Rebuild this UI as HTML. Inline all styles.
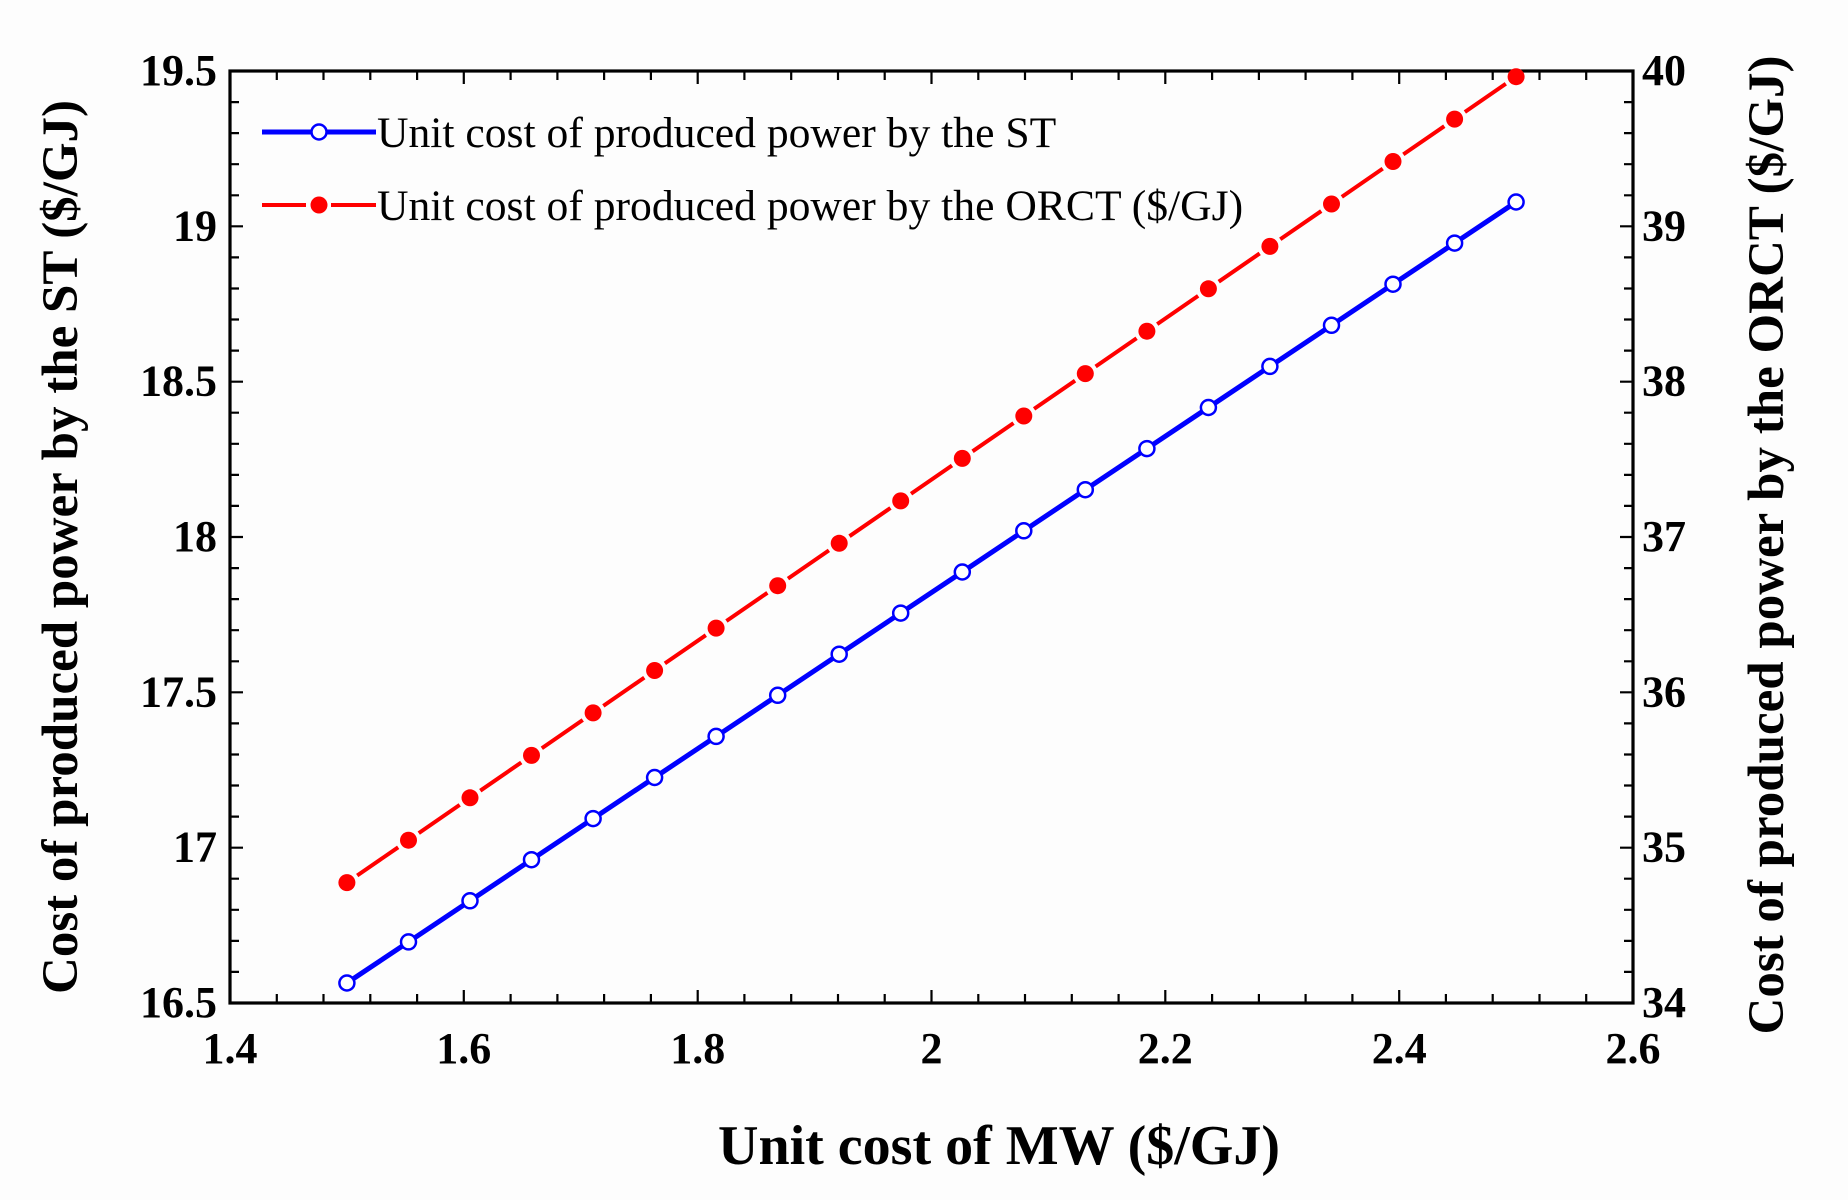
<!DOCTYPE html>
<html><head><meta charset="utf-8"><style>
html,body{margin:0;padding:0;background:#fdfdfd;}
svg{display:block;}
</style></head><body>
<svg width="1848" height="1200" viewBox="0 0 1848 1200" xmlns="http://www.w3.org/2000/svg">
<rect x="0" y="0" width="1848" height="1200" fill="#fdfdfd"/>
<!-- ticks -->
<g stroke="#000" stroke-width="2.2" fill="none">
<path d="M276.8 1003v-9M323.5 1003v-9M370.3 1003v-9M417.1 1003v-9M463.8 1003v-13M510.6 1003v-9M557.4 1003v-9M604.1 1003v-9M650.9 1003v-9M697.7 1003v-13M744.4 1003v-9M791.2 1003v-9M838 1003v-9M884.7 1003v-9M931.5 1003v-13M978.3 1003v-9M1025 1003v-9M1071.8 1003v-9M1118.6 1003v-9M1165.3 1003v-13M1212.1 1003v-9M1258.9 1003v-9M1305.6 1003v-9M1352.4 1003v-9M1399.2 1003v-13M1445.9 1003v-9M1492.7 1003v-9M1539.5 1003v-9M1586.2 1003v-9"/>
<path d="M276.8 71v9M323.5 71v9M370.3 71v9M417.1 71v9M463.8 71v13M510.6 71v9M557.4 71v9M604.1 71v9M650.9 71v9M697.7 71v13M744.4 71v9M791.2 71v9M838 71v9M884.7 71v9M931.5 71v13M978.3 71v9M1025 71v9M1071.8 71v9M1118.6 71v9M1165.3 71v13M1212.1 71v9M1258.9 71v9M1305.6 71v9M1352.4 71v9M1399.2 71v13M1445.9 71v9M1492.7 71v9M1539.5 71v9M1586.2 71v9"/>
<path d="M230 971.9h9M230 940.9h9M230 909.8h9M230 878.7h9M230 847.7h13M230 816.6h9M230 785.5h9M230 754.5h9M230 723.4h9M230 692.3h13M230 661.3h9M230 630.2h9M230 599.1h9M230 568.1h9M230 537h13M230 505.9h9M230 474.9h9M230 443.8h9M230 412.7h9M230 381.7h13M230 350.6h9M230 319.5h9M230 288.5h9M230 257.4h9M230 226.3h13M230 195.3h9M230 164.2h9M230 133.1h9M230 102.1h9"/>
<path d="M1633 971.9h-9M1633 940.9h-9M1633 909.8h-9M1633 878.7h-9M1633 847.7h-13M1633 816.6h-9M1633 785.5h-9M1633 754.5h-9M1633 723.4h-9M1633 692.3h-13M1633 661.3h-9M1633 630.2h-9M1633 599.1h-9M1633 568.1h-9M1633 537h-13M1633 505.9h-9M1633 474.9h-9M1633 443.8h-9M1633 412.7h-9M1633 381.7h-13M1633 350.6h-9M1633 319.5h-9M1633 288.5h-9M1633 257.4h-9M1633 226.3h-13M1633 195.3h-9M1633 164.2h-9M1633 133.1h-9M1633 102.1h-9"/>
</g>
<!-- frame -->
<rect x="230" y="71" width="1403" height="932" fill="none" stroke="#000" stroke-width="3.2"/>

<!-- blue series -->
<polyline fill="none" stroke="#0000ff" stroke-width="5" stroke-linejoin="round" points="346.9,983 408.5,941.9 470,900.8 531.5,859.7 593.1,818.6 654.6,777.5 716.1,736.4 777.7,695.3 839.2,654.2 900.7,613.1 962.3,572 1023.8,530.8 1085.3,489.7 1146.9,448.6 1208.4,407.5 1269.9,366.4 1331.5,325.3 1393,284.2 1454.6,243.1 1516.1,202"/>
<g fill="#fff" stroke="#0000ff" stroke-width="2.5">
<circle cx="346.9" cy="983" r="7.5"/><circle cx="408.5" cy="941.9" r="7.5"/><circle cx="470" cy="900.8" r="7.5"/><circle cx="531.5" cy="859.7" r="7.5"/><circle cx="593.1" cy="818.6" r="7.5"/><circle cx="654.6" cy="777.5" r="7.5"/><circle cx="716.1" cy="736.4" r="7.5"/><circle cx="777.7" cy="695.3" r="7.5"/><circle cx="839.2" cy="654.2" r="7.5"/><circle cx="900.7" cy="613.1" r="7.5"/><circle cx="962.3" cy="572" r="7.5"/><circle cx="1023.8" cy="530.8" r="7.5"/><circle cx="1085.3" cy="489.7" r="7.5"/><circle cx="1146.9" cy="448.6" r="7.5"/><circle cx="1208.4" cy="407.5" r="7.5"/><circle cx="1269.9" cy="366.4" r="7.5"/><circle cx="1331.5" cy="325.3" r="7.5"/><circle cx="1393" cy="284.2" r="7.5"/><circle cx="1454.6" cy="243.1" r="7.5"/><circle cx="1516.1" cy="202" r="7.5"/>
</g>

<!-- red series -->
<polyline fill="none" stroke="#ff0000" stroke-width="4" stroke-dasharray="0 12.5 49.74 12.5" points="346.9,882.6 408.5,840.2 470,797.8 531.5,755.4 593.1,712.9 654.6,670.5 716.1,628.1 777.7,585.7 839.2,543.3 900.7,500.9 962.3,458.4 1023.8,416 1085.3,373.6 1146.9,331.2 1208.4,288.8 1269.9,246.4 1331.5,204 1393,161.5 1454.6,119.1 1516.1,76.7"/>
<g fill="#ff0000">
<circle cx="346.9" cy="882.6" r="8.5"/><circle cx="408.5" cy="840.2" r="8.5"/><circle cx="470" cy="797.8" r="8.5"/><circle cx="531.5" cy="755.4" r="8.5"/><circle cx="593.1" cy="712.9" r="8.5"/><circle cx="654.6" cy="670.5" r="8.5"/><circle cx="716.1" cy="628.1" r="8.5"/><circle cx="777.7" cy="585.7" r="8.5"/><circle cx="839.2" cy="543.3" r="8.5"/><circle cx="900.7" cy="500.9" r="8.5"/><circle cx="962.3" cy="458.4" r="8.5"/><circle cx="1023.8" cy="416" r="8.5"/><circle cx="1085.3" cy="373.6" r="8.5"/><circle cx="1146.9" cy="331.2" r="8.5"/><circle cx="1208.4" cy="288.8" r="8.5"/><circle cx="1269.9" cy="246.4" r="8.5"/><circle cx="1331.5" cy="204" r="8.5"/><circle cx="1393" cy="161.5" r="8.5"/><circle cx="1454.6" cy="119.1" r="8.5"/><circle cx="1516.1" cy="76.7" r="8.5"/>
</g>

<!-- legend -->
<line x1="262" y1="132" x2="376" y2="132" stroke="#0000ff" stroke-width="5"/>
<circle cx="319" cy="132" r="7.5" fill="#fff" stroke="#0000ff" stroke-width="2.5"/>
<line x1="262" y1="205" x2="306" y2="205" stroke="#ff0000" stroke-width="4"/>
<line x1="331" y1="205" x2="376" y2="205" stroke="#ff0000" stroke-width="4"/>
<circle cx="319" cy="205" r="8.5" fill="#ff0000"/>
<g font-family="'Liberation Serif', 'Times New Roman', serif" font-size="43.6" fill="#000">
<text x="377" y="147">Unit cost of produced power by the ST</text>
<text x="377" y="220">Unit cost of produced power by the ORCT ($/GJ)</text>
</g>

<!-- tick labels -->
<g font-family="'Liberation Serif', 'Times New Roman', serif" font-weight="bold" font-size="44" fill="#000">
<g text-anchor="end">
<text x="217" y="1017">16.5</text>
<text x="217" y="861.7">17</text>
<text x="217" y="706.3">17.5</text>
<text x="217" y="551">18</text>
<text x="217" y="395.7">18.5</text>
<text x="217" y="240.3">19</text>
<text x="217" y="85">19.5</text>
</g>
<g text-anchor="start">
<text x="1642" y="1017">34</text>
<text x="1642" y="861.7">35</text>
<text x="1642" y="706.3">36</text>
<text x="1642" y="551">37</text>
<text x="1642" y="395.7">38</text>
<text x="1642" y="240.3">39</text>
<text x="1642" y="85">40</text>
</g>
<g text-anchor="middle">
<text x="230" y="1063">1.4</text>
<text x="463.8" y="1063">1.6</text>
<text x="697.7" y="1063">1.8</text>
<text x="931.5" y="1063">2</text>
<text x="1165.3" y="1063">2.2</text>
<text x="1399.2" y="1063">2.4</text>
<text x="1633" y="1063">2.6</text>
</g>
</g>

<!-- axis titles -->
<g font-family="'Liberation Serif', 'Times New Roman', serif" font-weight="bold" fill="#000" text-anchor="middle">
<text x="999" y="1164" font-size="56">Unit cost of MW ($/GJ)</text>
<text transform="translate(77,547) rotate(-90)" font-size="51">Cost of produced power by the ST ($/GJ)</text>
<text transform="translate(1783,545) rotate(-90)" font-size="51">Cost of produced power by the ORCT ($/GJ)</text>
</g>
</svg>
</body></html>
